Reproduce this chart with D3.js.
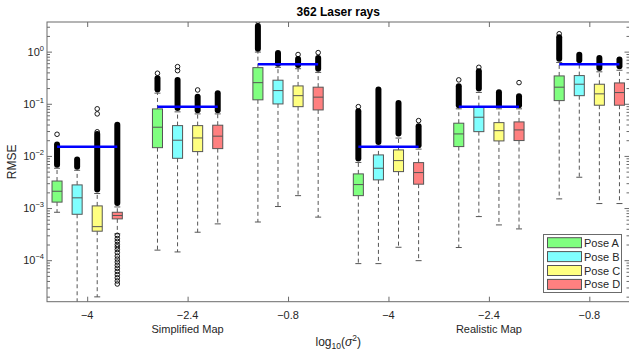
<!DOCTYPE html>
<html>
<head>
<meta charset="utf-8">
<script src="https://cdn.jsdelivr.net/npm/d3@7"></script>
<style>
  body { margin: 0; background: #fff; }
  svg { display: block; font-family: "Liberation Sans", Arial, sans-serif; }
</style>
</head>
<body>
<svg id="chart" width="629" height="356"></svg>
<script>
// Categories
const tickLabels = ["-4", "-2.4", "-0.8", "-4", "-2.4", "-0.8"];
const mapNames = ["Simplified Map", "Realistic Map"];
const poses = ["Pose A", "Pose B", "Pose C", "Pose D"];
const poseColors = ["#80ff80", "#80ffff", "#ffff80", "#ff8080"];

// Box statistics, one row per setting, one column per pose
const q1Vals = [
    [1.3e-3, 7.6e-4, 3.6e-4, 6.2e-4],
    [0.0144, 9.0e-3, 0.0121, 0.0138],
    [0.119, 0.0993, 0.088, 0.0762],
    [1.73e-3, 3.47e-3, 5.0e-3, 2.87e-3],
    [0.0151, 0.0292, 0.0194, 0.0197],
    [0.115, 0.143, 0.0938, 0.0938],
];
const medVals = [
    [2.1e-3, 1.57e-3, 4.4e-4, 7.2e-4],
    [0.0355, 0.020, 0.0221, 0.0239],
    [0.254, 0.179, 0.143, 0.134],
    [2.82e-3, 5.8e-3, 8.13e-3, 4.79e-3],
    [0.0264, 0.0552, 0.0305, 0.0315],
    [0.208, 0.237, 0.155, 0.164],
];
const q3Vals = [
    [3.3e-3, 2.78e-3, 1.1e-3, 8.3e-4],
    [0.0797, 0.0381, 0.0381, 0.0388],
    [0.493, 0.283, 0.220, 0.208],
    [4.52e-3, 0.01045, 0.01303, 7.44e-3],
    [0.0424, 0.088, 0.0435, 0.0449],
    [0.342, 0.347, 0.237, 0.251],
];
const whiskerLo = [
    [8.3e-4, 1.0e-5, 1.98e-5, 3.2e-4],
    [1.56e-4, 1.44e-4, 3.44e-4, 4.97e-4],
    [5.4e-4, 1.07e-3, 1.73e-3, 6.7e-4],
    [8.6e-5, 8.6e-5, 1.77e-4, 9.8e-5],
    [1.75e-4, 6.86e-4, 4.75e-4, 3.98e-4],
    [1.5e-3, 3.9e-3, 1.22e-3, 1.22e-3],
];
const whiskerHi = [
    [5.8e-3, 5.3e-3, 1.9e-3, 1.05e-3],
    [0.16, 0.07, 0.064, 0.064],
    [0.98, 0.50, 0.47, 0.40],
    [7.5e-3, 0.0155, 0.022, 0.0135],
    [0.08, 0.165, 0.08, 0.08],
    [0.62, 0.58, 0.41, 0.44],
];
// Ranges packed so densely with outliers that they print as a solid column
const denseOutliers = [
    [[[5.9e-3, 0.0188]], [[5.4e-3, 9.7e-3]], [[1.98e-3, 0.030]], [[1.1e-3, 0.045]]],
    [[[0.164, 0.353]], [[0.073, 0.327]], [[0.0659, 0.155]], [[0.0659, 0.182]]],
    [[[1.0, 3.55]], [[0.515, 1.08]], [[0.487, 0.827]], [[0.4135, 0.865]]],
    [[[7.78e-3, 0.0822]], [[0.01625, 0.2133]], [[0.02344, 0.1186]], [[0.01405, 0.0424]]],
    [[[0.0822, 0.2477]], [[0.171, 0.48]], [[0.0822, 0.19]], [[0.0822, 0.159]]],
    [[[0.643, 2.157]], [[0.599, 1.0]], [[0.4265, 0.865]], [[0.46, 0.802]]],
];
// Single outliers: [setting, pose, value]
const singleOutliers = [
    [0, 0, 0.026], [0, 2, 0.080], [0, 2, 0.064], [0, 2, 0.029],
    [0, 3, 3.0e-4], [0, 3, 2.6e-4], [0, 3, 2.3e-4], [0, 3, 2.0e-4], [0, 3, 1.8e-4],
    [0, 3, 1.6e-4], [0, 3, 1.4e-4], [0, 3, 1.2e-4], [0, 3, 1.05e-4], [0, 3, 9.2e-5],
    [0, 3, 8.0e-5], [0, 3, 7.0e-5], [0, 3, 6.1e-5], [0, 3, 5.3e-5], [0, 3, 4.6e-5],
    [0, 3, 4.0e-5], [0, 3, 3.5e-5],
    [1, 0, 0.385], [1, 1, 0.515], [1, 1, 0.432], [1, 2, 0.184],
    [2, 0, 3.85], [2, 2, 0.88], [2, 3, 0.957],
    [3, 0, 0.088], [3, 3, 0.0475],
    [4, 0, 0.287], [4, 1, 0.50], [4, 3, 0.2545],
    [5, 0, 2.2],
];
// Reference level per setting (blue line)
const refLevel = [0.015, 0.088, 0.573, 0.015, 0.088, 0.573];

const svg = d3.select("#chart");
const plotLeft = 47, plotRight = 629.5, plotTop = 22, plotBottom = 301.7;
const axisColor = "#6b6b6b";
const textColor = "#262626";

const x = d3.scaleLinear().domain([0.6, 6.4]).range([plotLeft, plotRight]);
const y = d3.scaleLog().domain([1.6e-5, 3.7]).range([plotBottom, plotTop]);
const offsets = [-0.3, -0.1, 0.1, 0.3];
const bw = (x(2) - x(1)) * 0.1;

svg.append("defs").append("clipPath").attr("id", "plot-clip")
    .append("rect").attr("x", plotLeft).attr("y", plotTop)
    .attr("width", plotRight - plotLeft).attr("height", plotBottom - plotTop);

const plot = svg.append("g").attr("clip-path", "url(#plot-clip)");

// Flatten boxes
const boxes = [];
tickLabels.forEach((_, s) => {
    poses.forEach((p, k) => {
        boxes.push({
            s, k,
            cx: x(s + 1 + offsets[k]),
            q1: q1Vals[s][k], med: medVals[s][k], q3: q3Vals[s][k],
            lo: whiskerLo[s][k], hi: whiskerHi[s][k],
            dense: denseOutliers[s][k],
        });
    });
});

// Whiskers
const wg = plot.append("g").attr("stroke", "#555").attr("stroke-width", 1);
boxes.forEach((b) => {
    wg.append("line").attr("x1", b.cx).attr("x2", b.cx)
        .attr("y1", y(b.q3)).attr("y2", y(b.hi)).attr("stroke-dasharray", "4,3");
    wg.append("line").attr("x1", b.cx).attr("x2", b.cx)
        .attr("y1", y(b.q1)).attr("y2", y(b.lo)).attr("stroke-dasharray", "4,3");
    wg.append("line").attr("x1", b.cx - 3).attr("x2", b.cx + 3)
        .attr("y1", y(b.lo)).attr("y2", y(b.lo));
    wg.append("line").attr("x1", b.cx - 3).attr("x2", b.cx + 3)
        .attr("y1", y(b.hi)).attr("y2", y(b.hi));
});

// Boxes
plot.append("g").selectAll("rect").data(boxes).join("rect")
    .attr("x", (d) => d.cx - bw / 2)
    .attr("y", (d) => y(d.q3))
    .attr("width", bw)
    .attr("height", (d) => y(d.q1) - y(d.q3))
    .attr("fill", (d) => poseColors[d.k])
    .attr("stroke", "#555")
    .attr("stroke-width", 1);

plot.append("g").selectAll("line").data(boxes).join("line")
    .attr("x1", (d) => d.cx - bw / 2).attr("x2", (d) => d.cx + bw / 2)
    .attr("y1", (d) => y(d.med)).attr("y2", (d) => y(d.med))
    .attr("stroke", "#555").attr("stroke-width", 1);

// Dense outlier columns
const og = plot.append("g");
boxes.forEach((b) => {
    b.dense.forEach(([lo, hi]) => {
        og.append("rect")
            .attr("x", b.cx - 3).attr("width", 6)
            .attr("y", y(hi)).attr("height", y(lo) - y(hi))
            .attr("rx", 3).attr("fill", "#000");
    });
});

// Single outliers
og.selectAll("circle").data(singleOutliers).join("circle")
    .attr("cx", (d) => x(d[0] + 1 + offsets[d[1]]))
    .attr("cy", (d) => y(d[2]))
    .attr("r", 2.3)
    .attr("fill", "none")
    .attr("stroke", "#000")
    .attr("stroke-width", 0.9);

// Reference lines
plot.append("g").selectAll("line").data(refLevel).join("line")
    .attr("x1", (d, i) => x(i + 1 + offsets[0]))
    .attr("x2", (d, i) => x(i + 1 + offsets[3]))
    .attr("y1", (d) => y(d)).attr("y2", (d) => y(d))
    .attr("stroke", "#0000ff").attr("stroke-width", 2.5);

// Axes
const majorY = [1e-4, 1e-3, 1e-2, 1e-1, 1];
const minorY = [];
for (let e = -5; e <= 0; e++) {
    for (let m = 2; m <= 9; m++) {
        const v = m * Math.pow(10, e);
        if (v >= y.domain()[0] && v <= y.domain()[1]) minorY.push(v);
    }
}
const xTicks = d3.range(1, 7);

function styleAxis(g) {
    g.select(".domain").remove();
    g.selectAll(".tick line").attr("stroke", axisColor);
    g.selectAll(".tick text").remove();
}

svg.append("g").attr("transform", `translate(${plotLeft},0)`)
    .call(d3.axisLeft(y).tickValues(majorY).tickSize(-5)).call(styleAxis);
svg.append("g").attr("transform", `translate(${plotLeft},0)`)
    .call(d3.axisLeft(y).tickValues(minorY).tickSize(-3)).call(styleAxis);
svg.append("g").attr("transform", `translate(${plotRight},0)`)
    .call(d3.axisRight(y).tickValues(majorY).tickSize(-5)).call(styleAxis);
svg.append("g").attr("transform", `translate(${plotRight},0)`)
    .call(d3.axisRight(y).tickValues(minorY).tickSize(-3)).call(styleAxis);
svg.append("g").attr("transform", `translate(0,${plotBottom})`)
    .call(d3.axisBottom(x).tickValues(xTicks).tickSize(-5)).call(styleAxis);
svg.append("g").attr("transform", `translate(0,${plotTop})`)
    .call(d3.axisTop(x).tickValues(xTicks).tickSize(-5)).call(styleAxis);

svg.append("rect")
    .attr("x", plotLeft).attr("y", plotTop)
    .attr("width", plotRight - plotLeft).attr("height", plotBottom - plotTop)
    .attr("fill", "none").attr("stroke", axisColor).attr("stroke-width", 1);

// Y tick labels 10^n
const yl = svg.append("g").attr("fill", textColor).attr("font-size", 11);
majorY.forEach((v) => {
    const t = yl.append("text").attr("x", plotLeft - 3).attr("y", y(v) + 4)
        .attr("text-anchor", "end");
    t.append("tspan").text("10");
    t.append("tspan").attr("dy", -5).attr("font-size", 7.5)
        .text(String(Math.round(Math.log10(v))).replace("-", "\u2212"));
});

// X tick labels
svg.append("g").selectAll("text").data(tickLabels).join("text")
    .attr("x", (d, i) => x(i + 1)).attr("y", 319)
    .attr("text-anchor", "middle").attr("font-size", 11)
    .attr("fill", textColor).text((d) => d.replace("-", "\u2212"));

svg.append("g").selectAll("text").data(mapNames).join("text")
    .attr("x", (d, i) => x(2 + i * 3)).attr("y", 333)
    .attr("text-anchor", "middle").attr("font-size", 11)
    .attr("fill", textColor).text((d) => d);

const xl = svg.append("text").attr("x", (plotLeft + plotRight) / 2).attr("y", 346)
    .attr("text-anchor", "middle").attr("font-size", 12).attr("fill", textColor);
xl.append("tspan").text("log");
xl.append("tspan").attr("font-size", 8.5).attr("dy", 3).text("10");
xl.append("tspan").attr("dy", -3).text("(");
xl.append("tspan").attr("font-style", "italic").text("\u03c3");
xl.append("tspan").attr("font-size", 8.5).attr("dy", -5).text("2");
xl.append("tspan").attr("dy", 5).text(")");

svg.append("text")
    .attr("transform", `translate(16,${(plotTop + plotBottom) / 2}) rotate(-90)`)
    .attr("text-anchor", "middle").attr("font-size", 12)
    .attr("fill", textColor).text("RMSE");

svg.append("text").attr("x", (plotLeft + plotRight) / 2).attr("y", 16)
    .attr("text-anchor", "middle").attr("font-size", 12)
    .attr("font-weight", "bold").attr("fill", "#000").text("362 Laser rays");

// Legend
const legend = svg.append("g");
legend.append("rect").attr("x", 543.5).attr("y", 234.5)
    .attr("width", 78).attr("height", 58)
    .attr("fill", "#fff").attr("stroke", axisColor);
poses.forEach((p, k) => {
    const cy = 242.7 + k * 13.9;
    legend.append("rect").attr("x", 547.5).attr("y", cy - 5)
        .attr("width", 34).attr("height", 10)
        .attr("fill", poseColors[k]).attr("stroke", "#555");
    legend.append("text").attr("x", 584).attr("y", cy + 4)
        .attr("font-size", 11).attr("fill", textColor).text(p);
});
</script>
</body>
</html>
